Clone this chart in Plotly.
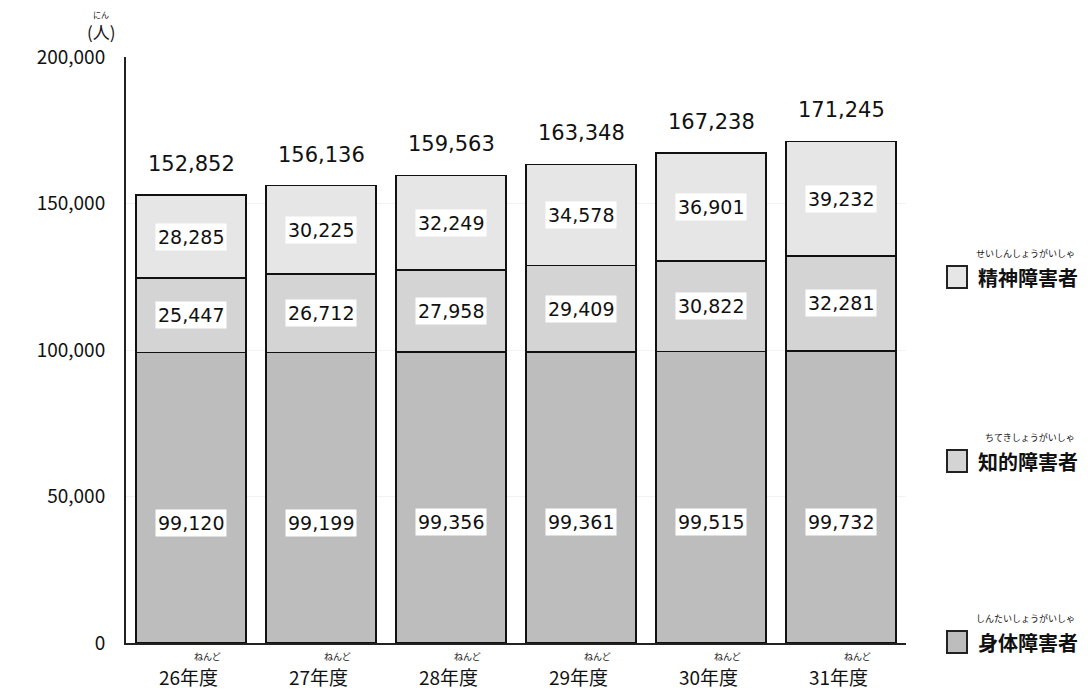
import plotly.graph_objects as go

categories = ["26年度", "27年度", "28年度", "29年度", "30年度", "31年度"]
ruby_year = "ねんど"
shintai = [99120, 99199, 99356, 99361, 99515, 99732]
chiteki = [25447, 26712, 27958, 29409, 30822, 32281]
seishin = [28285, 30225, 32249, 34578, 36901, 39232]
totals = [152852, 156136, 159563, 163348, 167238, 171245]
series_names = ["身体障害者", "知的障害者", "精神障害者"]
series_ruby = ["しんたいしょうがいしゃ", "ちてきしょうがいしゃ", "せいしんしょうがいしゃ"]
y_ticks = [0, 50000, 100000, 150000, 200000]
y_unit = "(人)"
y_unit_ruby = "にん"

FONT = "Noto Sans CJK JP"
NUMFONT = "DejaVu Sans"
colors = ["#bdbdbd", "#d4d4d4", "#e6e6e6"]
series = [shintai, chiteki, seishin]

fig = go.Figure()
for vals, name, col in zip(series, series_names, colors):
    fig.add_trace(go.Bar(
        x=categories, y=vals, name=name,
        marker=dict(color=col, line=dict(color="#111111", width=1.5)),
        showlegend=False, hoverinfo="skip",
    ))

# plot-area geometry in window pixels (used only to place decorations)
PX0, PX1, PY0, PY1 = 126, 906, 57, 643
W = PX1 - PX0
H = PY1 - PY0

def px(x):
    return (x - PX0) / W

def py(y):
    return (PY1 - y) / H

annotations = []
for i, c in enumerate(categories):
    base = 0
    for k, vals in enumerate(series):
        v = vals[i]
        mid = base + v / 2
        annotations.append(dict(
            x=c, y=mid, text=f"{v:,}", showarrow=False,
            font=dict(family=NUMFONT, size=19, color="#111111"),
            bgcolor="white", borderpad=2,
            yshift=-25 if k == 0 else 0,
        ))
        base += v
    annotations.append(dict(
        x=c, y=totals[i], text=f"{totals[i]:,}", showarrow=False,
        yanchor="middle", yshift=31,
        font=dict(family=NUMFONT, size=21, color="#111111"),
    ))
    annotations.append(dict(
        x=c, y=0, text=c, showarrow=False, yanchor="middle",
        yshift=-33, xshift=-3,
        font=dict(family=FONT, size=19, color="#111111"),
    ))
    annotations.append(dict(
        x=c, y=0, text=ruby_year, showarrow=False, yanchor="middle",
        yshift=-13, xshift=16,
        font=dict(family=FONT, size=9, color="#111111"),
    ))

annotations.append(dict(x=px(101), y=py(32), xref="paper", yref="paper", text=y_unit,
                        showarrow=False, xanchor="center", yanchor="middle",
                        font=dict(family=FONT, size=17, color="#111111")))
annotations.append(dict(x=px(101), y=py(14.5), xref="paper", yref="paper", text=y_unit_ruby,
                        showarrow=False, xanchor="center", yanchor="middle",
                        font=dict(family=FONT, size=8, color="#111111")))

legend_pos = {2: 277, 1: 461, 0: 642}
shapes = []
for k in [2, 1, 0]:
    cy = legend_pos[k]
    shapes.append(dict(type="rect", xref="paper", yref="paper",
                       x0=px(947), x1=px(967), y0=py(cy + 11), y1=py(cy - 11),
                       fillcolor=colors[k], line=dict(color="#222222", width=2)))
    annotations.append(dict(x=px(976), y=py(cy), xref="paper", yref="paper",
                            text=f"<b>{series_names[k]}</b>", showarrow=False,
                            xanchor="left", yanchor="middle",
                            font=dict(family=FONT, size=20, color="#111111")))
    annotations.append(dict(x=px(1077), y=py(cy - 24), xref="paper", yref="paper",
                            text=series_ruby[k], showarrow=False,
                            xanchor="right", yanchor="middle",
                            font=dict(family=FONT, size=9, color="#111111")))

# page body has an 8px margin; size the figure so the window shows it whole
OFF = 8
FW, FH = 1088 - 2 * OFF, 698 - 2 * OFF
fig.update_layout(
    width=FW, height=FH,
    margin=dict(l=PX0 - OFF, r=FW - (PX1 - OFF), t=PY0 - OFF, b=FH - (PY1 - OFF)),
    plot_bgcolor="white", paper_bgcolor="white",
    barmode="stack", bargap=0.154,
    annotations=annotations, shapes=shapes,
    xaxis=dict(showticklabels=False, ticks="", showgrid=False, zeroline=False,
               showline=True, linecolor="#222222", linewidth=2),
    yaxis=dict(range=[0, 200000], tickvals=y_ticks,
               ticktext=[f"{t:,}" for t in y_ticks], ticks="",
               tickfont=dict(family=FONT, size=19, color="#111111"),
               showgrid=True, gridcolor="#f2f2f2", zeroline=False,
               showline=True, linecolor="#222222", linewidth=2, ticklabelstandoff=15),
    font=dict(family=FONT),
)

fig.write_html("out.html")
